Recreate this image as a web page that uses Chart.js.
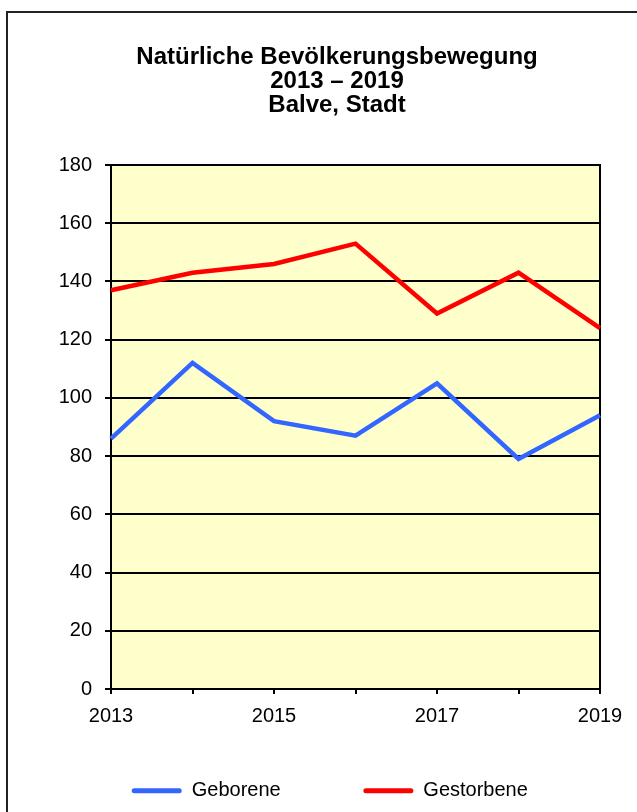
<!DOCTYPE html>
<html>
<head>
<meta charset="utf-8">
<script src="https://cdn.jsdelivr.net/npm/chart.js@4"></script>
<style>
  html, body { margin: 0; padding: 0; background: #fff; overflow: hidden; }
  canvas { display: block; }
</style>
</head>
<body>
<canvas id="bewegungChart" width="637" height="812"></canvas>
<script>
const years = ['2013', '2014', '2015', '2016', '2017', '2018', '2019'];
const geborene = [86, 112, 92, 87, 105, 79, 94];
const gestorbene = [137, 143, 146, 153, 129, 143, 124];
const titleLines = ['Natürliche Bevölkerungsbewegung', '2013 – 2019', 'Balve, Stadt'];
const yMin = 0;
const yMax = 180;
const yStep = 20;

Chart.defaults.font.family = "'Liberation Sans', Arial, sans-serif";
Chart.defaults.color = '#000';

// Rahmen, gelbe Zeichenfläche und Umrandung
const rahmenPlugin = {
  id: 'rahmen',
  afterLayout(chart) {
    // Legende etwas näher an die Achse rücken (großer Abstand nur horizontal)
    chart.legend.top -= 28;
    chart.legend.bottom -= 28;
  },
  beforeDraw(chart) {
    const ctx = chart.ctx;
    const a = chart.chartArea;
    ctx.save();
    ctx.fillStyle = '#fff';
    ctx.fillRect(0, 0, chart.width, chart.height);
    ctx.fillStyle = '#FFFFCC';
    ctx.fillRect(a.left, a.top, a.right - a.left, a.bottom - a.top);
    ctx.strokeStyle = '#222';
    ctx.lineWidth = 2;
    ctx.beginPath();
    ctx.moveTo(7, chart.height);
    ctx.lineTo(7, 12);
    ctx.lineTo(chart.width, 12);
    ctx.stroke();
    ctx.restore();
  },
  beforeDatasetsDraw(chart) {
    const ctx = chart.ctx;
    const a = chart.chartArea;
    ctx.save();
    ctx.strokeStyle = '#000';
    ctx.lineWidth = 2;
    ctx.strokeRect(a.left, a.top, a.right - a.left, a.bottom - a.top);
    ctx.restore();
  }
};

const ctx = document.getElementById('bewegungChart').getContext('2d');

new Chart(ctx, {
  type: 'line',
  data: {
    labels: years,
    datasets: [{
      label: 'Geborene',
      data: geborene,
      borderColor: '#3366FF',
      backgroundColor: '#3366FF',
      borderWidth: 4.5,
      pointRadius: 0,
      tension: 0
    }, {
      label: 'Gestorbene',
      data: gestorbene,
      borderColor: '#FF0000',
      backgroundColor: '#FF0000',
      borderWidth: 4.5,
      pointRadius: 0,
      tension: 0
    }]
  },
  options: {
    responsive: false,
    animation: false,
    devicePixelRatio: 1,
    layout: {
      padding: { left: 49, right: 12, top: 0, bottom: -26.7 }
    },
    scales: {
      x: {
        grid: {
          drawOnChartArea: false,
          drawTicks: true,
          tickLength: 5,
          color: '#000',
          lineWidth: 2
        },
        border: { color: '#000', width: 2 },
        ticks: {
          autoSkip: false,
          maxRotation: 0,
          color: '#000',
          padding: 10,
          font: { size: 20 },
          callback: function (value, index) {
            return index % 2 === 0 ? this.getLabelForValue(value) : '';
          }
        },
        afterFit: function (scale) { scale.height = 37; }
      },
      y: {
        min: yMin,
        max: yMax,
        grid: { color: '#000', lineWidth: 2, tickLength: 6 },
        border: { color: '#000', width: 2 },
        ticks: {
          stepSize: yStep,
          color: '#000',
          padding: 13,
          font: { size: 20 }
        },
        afterFit: function (scale) { scale.width = 62; }
      },
      rechts: {
        position: 'right',
        grid: { display: false },
        border: { display: false },
        ticks: { display: false },
        afterFit: function (scale) { scale.width = 25; }
      }
    },
    plugins: {
      title: {
        display: true,
        text: titleLines,
        color: '#000',
        font: { size: 24, weight: 'bold', lineHeight: '24px' },
        padding: { top: 45, bottom: 48 }
      },
      legend: {
        position: 'bottom',
        align: 'start',
        labels: {
          color: '#000',
          font: { size: 20 },
          boxWidth: 50,
          boxHeight: 5,
          padding: 82.7,
          useBorderRadius: true,
          borderRadius: 2.5,
          generateLabels: function (chart) {
            return chart.data.datasets.map((ds, i) => ({
              text: ds.label,
              fillStyle: ds.borderColor,
              strokeStyle: ds.borderColor,
              fontColor: '#000',
              lineWidth: 0,
              borderRadius: 2.5,
              hidden: false,
              datasetIndex: i
            }));
          }
        }
      },
      tooltip: { enabled: false }
    }
  },
  plugins: [rahmenPlugin]
});
</script>
</body>
</html>
